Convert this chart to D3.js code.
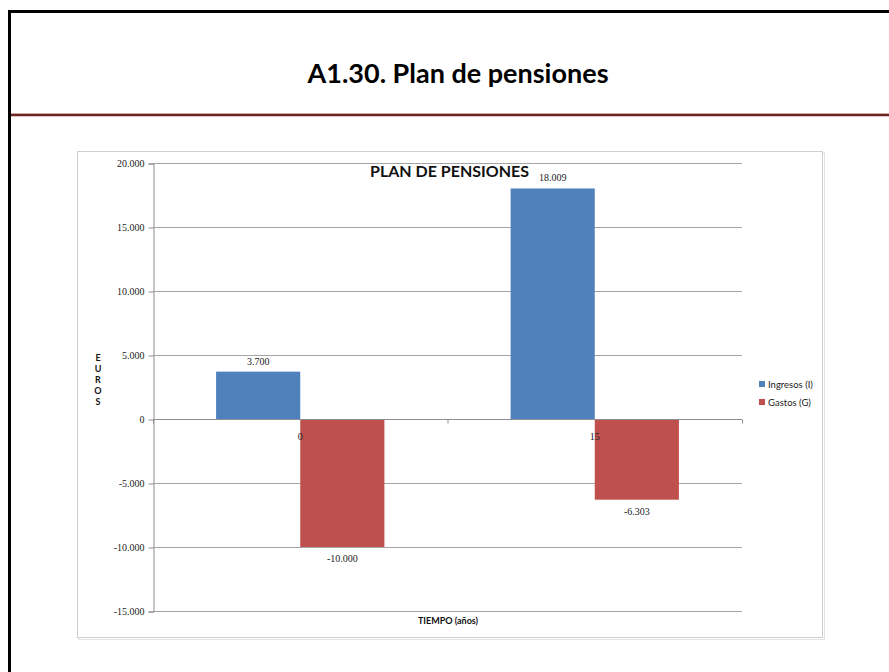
<!DOCTYPE html>
<html>
<head>
  <meta charset="utf-8">
  <title>A1.30. Plan de pensiones</title>
  <script src="https://d3js.org/d3.v7.min.js"></script>
  <style>
    html, body {
      margin: 0;
      padding: 0;
      background: #fff;
      overflow: hidden;
    }
    svg { display: block; }
    .num { font-family: 'Liberation Serif', serif; font-size: 10px; fill: #222; }
    .sans { font-family: Lato, 'Open Sans', sans-serif; }
  </style>
</head>
<body>
  <svg></svg>
  <script>
    // chart values
    var categories = ["0", "15"];
    var series = ["Ingresos (I)", "Gastos (G)"];
    var ingresos = [3700, 18009];
    var gastos = [-10000, -6303];
    var yTicks = [-15000, -10000, -5000, 0, 5000, 10000, 15000, 20000];
    var colors = ["#4f81bd", "#c0504d"];

    var width = 889, height = 672;
    var svg = d3.select("svg").attr("width", width).attr("height", height);

    // spanish number format: 18.009
    var es = d3.formatLocale({decimal: ",", thousands: ".", grouping: [3], currency: ["", " €"], minus: "-"});
    var fmt = es.format(",d");

    // slide frame
    svg.append("rect").attr("width", width).attr("height", height).attr("fill", "#fff");
    svg.append("path")
      .attr("d", "M9.5," + height + "V11.5H" + (width + 5))
      .attr("fill", "none")
      .attr("stroke", "#000")
      .attr("stroke-width", 3);

    svg.append("text")
      .attr("class", "sans")
      .attr("x", 458)
      .attr("y", 83)
      .attr("text-anchor", "middle")
      .attr("font-weight", "bold")
      .attr("font-size", 27)
      .attr("fill", "#000")
      .text("A1.30. Plan de pensiones");

    // dark red rule under the title
    svg.append("line")
      .attr("x1", 11).attr("x2", width)
      .attr("y1", 115).attr("y2", 115)
      .attr("stroke", "#6e2323")
      .attr("stroke-width", 2.5);
    svg.append("line")
      .attr("x1", 11).attr("x2", width)
      .attr("y1", 113.5).attr("y2", 113.5)
      .attr("stroke", "#c9a3a3")
      .attr("stroke-width", 0.8);

    // chart box with a light shadow
    svg.append("rect")
      .attr("x", 78.5).attr("y", 152.5)
      .attr("width", 746).attr("height", 487)
      .attr("fill", "none")
      .attr("stroke", "#e4e4e4");
    svg.append("rect")
      .attr("x", 77.5).attr("y", 151.5)
      .attr("width", 745).attr("height", 486)
      .attr("fill", "#fff")
      .attr("stroke", "#cfcfcf");

    var plot = {left: 153, right: 742, top: 163, bottom: 611};

    var x = d3.scaleBand()
      .domain(categories)
      .range([plot.left, plot.right]);
    var xs = d3.scaleBand()
      .domain(series)
      .range([0, x.bandwidth()])
      .paddingOuter(0.75);
    var y = d3.scaleLinear()
      .domain([-15000, 20000])
      .range([plot.bottom, plot.top]);

    // gridlines
    svg.append("g")
      .selectAll("line")
      .data(yTicks.filter(d => d !== 0))
      .join("line")
      .attr("x1", plot.left).attr("x2", plot.right)
      .attr("y1", d => Math.round(y(d)) + 0.5)
      .attr("y2", d => Math.round(y(d)) + 0.5)
      .attr("stroke", "#8e8e8e")
      .attr("stroke-width", 0.8);

    // y axis
    var yAxis = d3.axisLeft(y)
      .tickValues(yTicks)
      .tickFormat(fmt)
      .tickSize(5)
      .tickPadding(4);
    var gy = svg.append("g")
      .attr("transform", "translate(" + (plot.left + 0.5) + ",0.5)")
      .call(yAxis);
    gy.select(".domain").attr("stroke", "#8e8e8e");
    gy.selectAll(".tick line").attr("stroke", "#8e8e8e");
    gy.selectAll(".tick text")
      .attr("class", "num")
      .attr("fill", "#222")
      .attr("font-family", null)
      .attr("font-size", null);

    // bars
    var rows = categories.map((c, i) => ({cat: c, values: [ingresos[i], gastos[i]]}));
    var groups = svg.append("g")
      .selectAll("g")
      .data(rows)
      .join("g")
      .attr("transform", d => "translate(" + x(d.cat) + ",0)");

    groups.selectAll("rect")
      .data(d => d.values.map((v, j) => ({key: series[j], value: v, j: j})))
      .join("rect")
      .attr("x", d => xs(d.key))
      .attr("width", xs.bandwidth())
      .attr("y", d => y(Math.max(0, d.value)))
      .attr("height", d => Math.abs(y(d.value) - y(0)))
      .attr("fill", d => colors[d.j]);

    // data labels
    groups.selectAll("text.val")
      .data(d => d.values.map((v, j) => ({key: series[j], value: v})))
      .join("text")
      .attr("class", "num val")
      .attr("x", d => xs(d.key) + xs.bandwidth() / 2)
      .attr("y", d => d.value >= 0 ? y(d.value) - 7 : y(d.value) + 15)
      .attr("text-anchor", "middle")
      .text(d => fmt(d.value));

    // horizontal category axis on the zero line
    var zeroY = Math.round(y(0)) + 0.5;
    svg.append("line")
      .attr("x1", plot.left).attr("x2", plot.right)
      .attr("y1", zeroY).attr("y2", zeroY)
      .attr("stroke", "#8e8e8e");
    svg.append("g")
      .selectAll("line")
      .data([plot.left, x(categories[1]), plot.right])
      .join("line")
      .attr("x1", d => d + 0.5).attr("x2", d => d + 0.5)
      .attr("y1", zeroY).attr("y2", zeroY + 4)
      .attr("stroke", "#8e8e8e");

    svg.append("g")
      .selectAll("text")
      .data(categories)
      .join("text")
      .attr("class", "num")
      .attr("x", d => x(d) + x.bandwidth() / 2)
      .attr("y", zeroY + 20)
      .attr("text-anchor", "middle")
      .text(d => d);

    // chart title
    svg.append("text")
      .attr("class", "sans")
      .attr("x", (plot.left + plot.right) / 2 + 2)
      .attr("y", 177)
      .attr("text-anchor", "middle")
      .attr("font-weight", "bold")
      .attr("font-size", 16)
      .attr("fill", "#111")
      .text("PLAN DE PENSIONES");

    // axis titles
    svg.append("text")
      .attr("class", "sans")
      .attr("x", 448)
      .attr("y", 624)
      .attr("text-anchor", "middle")
      .attr("font-weight", "bold")
      .attr("font-size", 9)
      .attr("fill", "#111")
      .text("TIEMPO (años)");

    svg.append("text")
      .attr("class", "sans")
      .attr("font-weight", "bold")
      .attr("font-size", 9)
      .attr("fill", "#111")
      .attr("text-anchor", "middle")
      .selectAll("tspan")
      .data("EUROS".split(""))
      .join("tspan")
      .attr("x", 98)
      .attr("y", (d, i) => 361 + i * 11)
      .text(d => d);

    // legend
    var legend = svg.append("g")
      .selectAll("g")
      .data(series)
      .join("g")
      .attr("transform", (d, i) => "translate(759," + (381 + i * 18) + ")");
    legend.append("rect")
      .attr("width", 6).attr("height", 6)
      .attr("fill", (d, i) => colors[i]);
    legend.append("text")
      .attr("class", "sans")
      .attr("x", 9)
      .attr("y", 6.5)
      .attr("font-size", 9.5)
      .attr("fill", "#222")
      .text(d => d);
  </script>
</body>
</html>
